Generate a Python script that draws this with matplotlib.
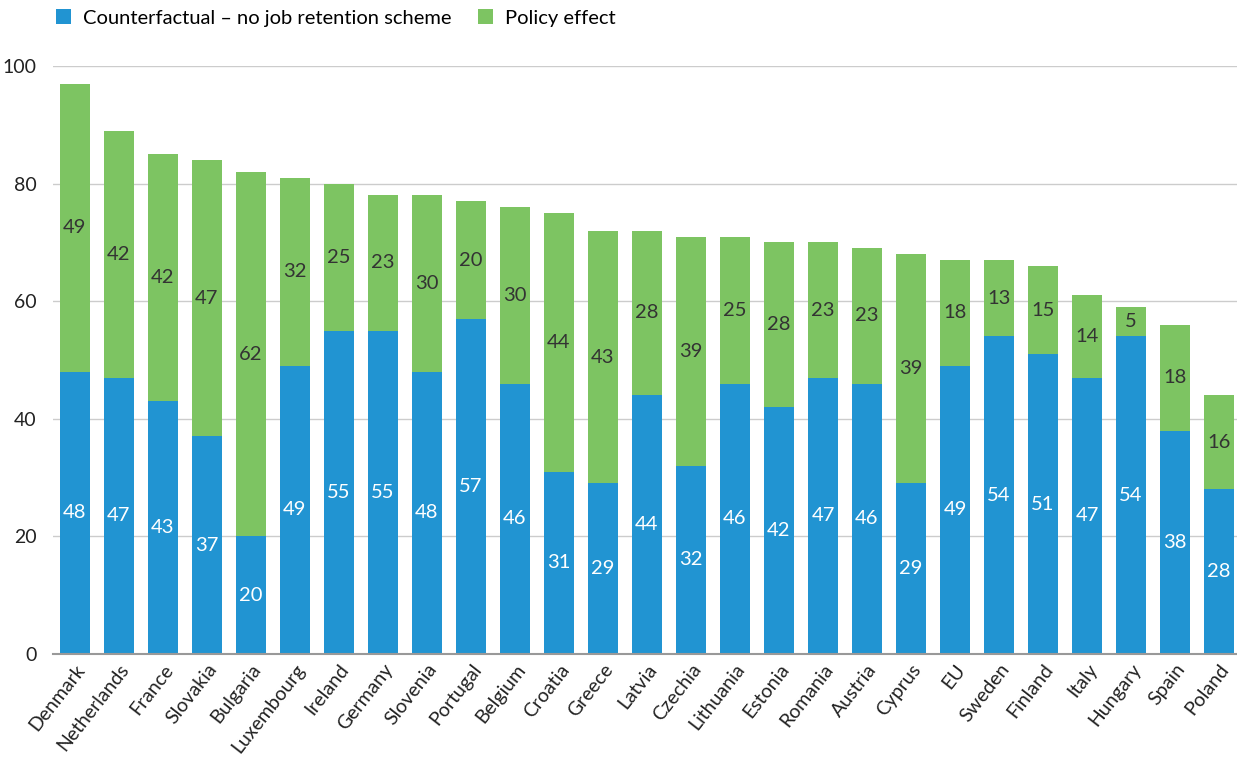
import matplotlib.pyplot as plt
import numpy as np

plt.rcParams['font.family'] = ['Lato', 'DejaVu Sans']

countries = ['Denmark', 'Netherlands', 'France', 'Slovakia', 'Bulgaria', 'Luxembourg',
             'Ireland', 'Germany', 'Slovenia', 'Portugal', 'Belgium', 'Croatia', 'Greece',
             'Latvia', 'Czechia', 'Lithuania', 'Estonia', 'Romania', 'Austria', 'Cyprus',
             'EU', 'Sweden', 'Finland', 'Italy', 'Hungary', 'Spain', 'Poland']
counterfactual = [48, 47, 43, 37, 20, 49, 55, 55, 48, 57, 46, 31, 29, 44, 32, 46, 42,
                  47, 46, 29, 49, 54, 51, 47, 54, 38, 28]
policy = [49, 42, 42, 47, 62, 32, 25, 23, 30, 20, 30, 44, 43, 28, 39, 25, 28, 23, 23,
          39, 18, 13, 15, 14, 5, 18, 16]

blue = '#2194d2'
green = '#7dc462'

fig = plt.figure(figsize=(12.37, 7.62), dpi=100)
ax = fig.add_axes([0.0428, 0.1417, 0.9572, 0.7717])

x = np.arange(len(countries))
ax.bar(x, counterfactual, width=0.7, color=blue,
       label='Counterfactual – no job retention scheme', zorder=3)
ax.bar(x, policy, width=0.7, bottom=counterfactual, color=green,
       label='Policy effect', zorder=3)

# value labels in the middle of each segment
for i in range(len(countries)):
    ax.text(x[i], counterfactual[i] / 2, str(counterfactual[i]), ha='center', va='center',
            color='white', fontsize=14.5, zorder=4)
    ax.text(x[i], counterfactual[i] + policy[i] / 2, str(policy[i]), ha='center', va='center',
            color='#333333', fontsize=14.5, zorder=4)

ax.set_xlim(-0.5, 26.41)
ax.set_ylim(0, 100)
ax.set_yticks([0, 20, 40, 60, 80, 100])
ax.yaxis.grid(True, color='#cccccc', linewidth=1, zorder=0)
ax.tick_params(axis='y', length=0, pad=12, labelsize=14, labelcolor='#222222')
ax.tick_params(axis='x', length=0, pad=5, labelsize=14, labelcolor='#222222')
ax.set_xticks(x)
ax.set_xticklabels(countries, rotation=52, ha='right', rotation_mode='anchor')
for s in ['top', 'right', 'left']:
    ax.spines[s].set_visible(False)
ax.spines['bottom'].set_color('#999999')
ax.spines['bottom'].set_linewidth(1.5)
ax.spines['bottom'].set_zorder(5)

fig.legend(loc='center left', bbox_to_anchor=(0.039, 1 - 18 / 762), ncol=2, frameon=False,
           fontsize=14.5, handlelength=0.75, handleheight=0.75, handletextpad=0.6,
           columnspacing=1.3, borderaxespad=0)

fig.savefig('out.png', dpi=100)
